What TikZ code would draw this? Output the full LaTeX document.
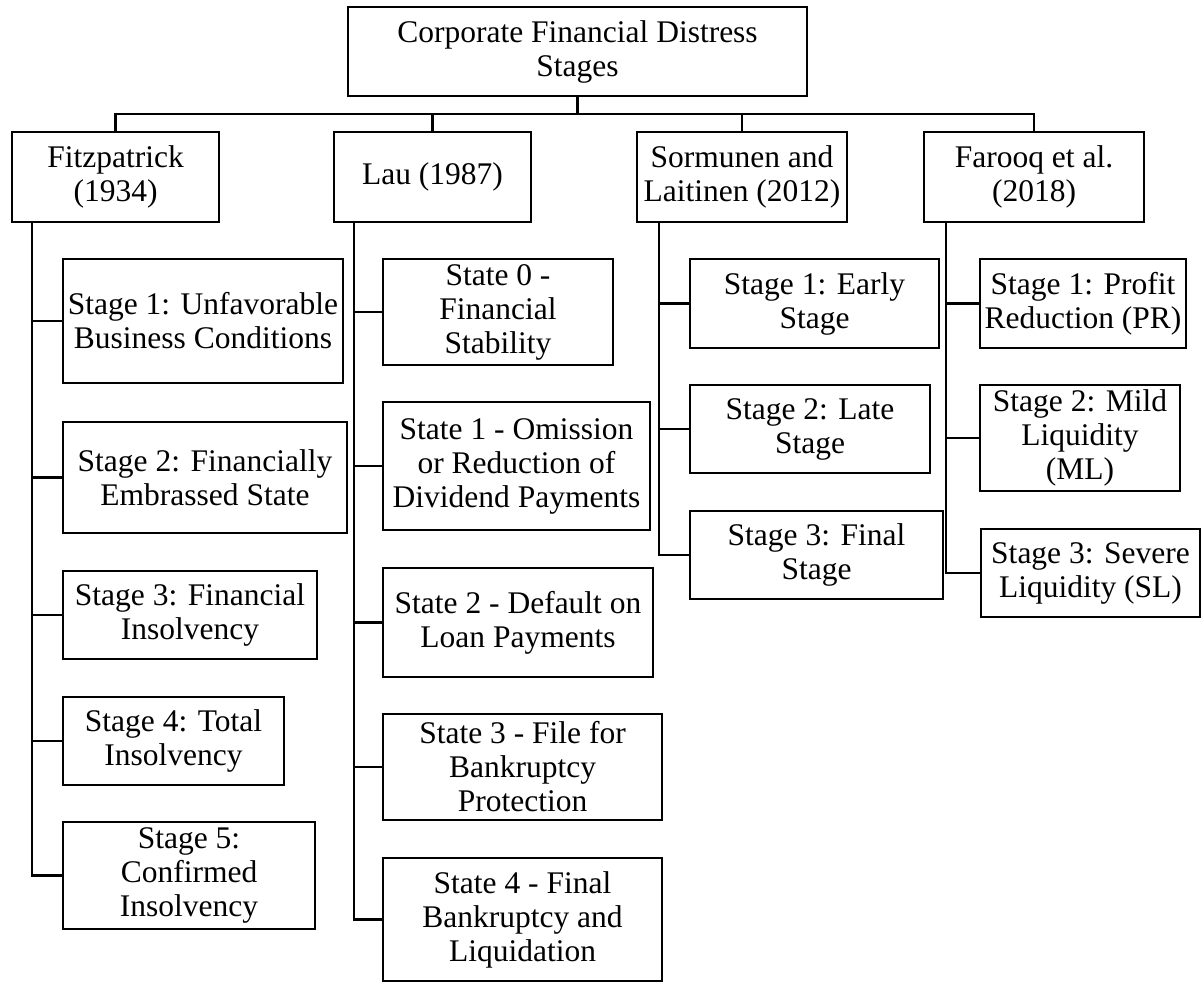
\documentclass[tikz,border=0pt]{standalone}
\usepackage{fontspec}
\setmainfont{Liberation Serif}
\tikzset{%
  % Specifications for style of boxes:
        base/.style = {rectangle, draw=black, line width=2.6pt,
                       align=center, inner sep=0pt, outer sep=0pt,
                       font=\fontsize{31.5}{34}\selectfont},
     rootbox/.style = {base},
   authorbox/.style = {base, minimum height=90pt},
    stagebox/.style = {base},
        link/.style = {line width=2.6pt},
}
\begin{document}
\begin{tikzpicture}[x=1pt, y=-1pt]
  \useasboundingbox (0,0) rectangle (1204,983);
  % Root and the four authors
  \node (root)    [rootbox, minimum width=459pt, minimum height=89pt] at (577.5,51.5)
        {Corporate Financial Distress\\Stages};
  \node (fitz)    [authorbox, minimum width=207pt] at (115.5,177) {Fitzpatrick\\(1934)};
  \node (lau)     [authorbox, minimum width=197pt] at (432.5,177) {Lau (1987)};
  \node (sorm)    [authorbox, minimum width=210pt] at (742,177)   {Sormunen and\\Laitinen (2012)};
  \node (farooq)  [authorbox, minimum width=220pt] at (1034,177)  {Farooq et al.\\(2018)};
  % Fitzpatrick (1934)
  \node (fitzA) [stagebox, minimum width=280pt, minimum height=124pt] at (203,321)
        {Stage 1: Unfavorable\\Business Conditions};
  \node (fitzB) [stagebox, minimum width=284pt, minimum height=111pt] at (205,477.5)
        {Stage 2: Financially\\Embrassed State};
  \node (fitzC) [stagebox, minimum width=254pt, minimum height=88pt] at (190,615)
        {Stage 3: Financial\\Insolvency};
  \node (fitzD) [stagebox, minimum width=221pt, minimum height=88pt] at (173.5,741)
        {Stage 4: Total\\Insolvency};
  \node (fitzE) [stagebox, minimum width=252pt, minimum height=107pt] at (189,875.5)
        {Stage 5:\\Confirmed\\Insolvency};
  % Lau (1987)
  \node (lauA) [stagebox, minimum width=230pt, minimum height=106pt] at (498,312)
        {State 0 -\\Financial\\Stability};
  \node (lauB) [stagebox, minimum width=267pt, minimum height=128pt] at (516.5,466)
        {State 1 - Omission\\or Reduction of\\Dividend Payments};
  \node (lauC) [stagebox, minimum width=270pt, minimum height=109pt] at (518,622.5)
        {State 2 - Default on\\Loan Payments};
  \node (lauD) [stagebox, minimum width=279pt, minimum height=106pt] at (522.5,767)
        {State 3 - File for\\Bankruptcy\\Protection};
  \node (lauE) [stagebox, minimum width=279pt, minimum height=123pt] at (522.5,919.5)
        {State 4 - Final\\Bankruptcy and\\Liquidation};
  % Sormunen and Laitinen (2012)
  \node (sormA) [stagebox, minimum width=249pt, minimum height=89pt] at (814.5,303.5)
        {Stage 1: Early\\Stage};
  \node (sormB) [stagebox, minimum width=240pt, minimum height=88pt] at (810,429)
        {Stage 2: Late\\Stage};
  \node (sormC) [stagebox, minimum width=253pt, minimum height=88pt] at (816.5,555)
        {Stage 3: Final\\Stage};
  % Farooq et al. (2018)
  \node (farooqA) [stagebox, minimum width=206pt, minimum height=89pt] at (1083,303.5)
        {Stage 1: Profit\\Reduction (PR)};
  \node (farooqB) [stagebox, minimum width=200pt, minimum height=106pt] at (1080,438)
        {Stage 2: Mild\\Liquidity\\(ML)};
  \node (farooqC) [stagebox, minimum width=219pt, minimum height=88pt] at (1090.5,573)
        {Stage 3: Severe\\Liquidity (SL)};
  % Connectors
  \coordinate (bus) at ([yshift=18pt]fitz.north);
  \draw[link] (root.south) -- (root.south |- bus);
  \draw[link] (fitz.north) |- (bus) -| (farooq.north);
  \draw[link] (lau.north)  -- (lau.north |- bus);
  \draw[link] (sorm.north) -- (sorm.north |- bus);
  \coordinate (fitzT)   at ([xshift=20pt]fitz.south west);
  \coordinate (lauT)    at ([xshift=20pt]lau.south west);
  \coordinate (sormT)   at ([xshift=22pt]sorm.south west);
  \coordinate (farooqT) at ([xshift=22pt]farooq.south west);
  \draw[link] (fitzT) |- (fitzE.west);
  \foreach \n in {fitzA,fitzB,fitzC,fitzD}
    \draw[link] (\n.west) -- (\n.west -| fitzT);
  \draw[link] (lauT) |- (lauE.west);
  \foreach \n in {lauA,lauB,lauC,lauD}
    \draw[link] (\n.west) -- (\n.west -| lauT);
  \draw[link] (sormT) |- (sormC.west);
  \foreach \n in {sormA,sormB}
    \draw[link] (\n.west) -- (\n.west -| sormT);
  \draw[link] (farooqT) |- (farooqC.west);
  \foreach \n in {farooqA,farooqB}
    \draw[link] (\n.west) -- (\n.west -| farooqT);
\end{tikzpicture}
\end{document}
